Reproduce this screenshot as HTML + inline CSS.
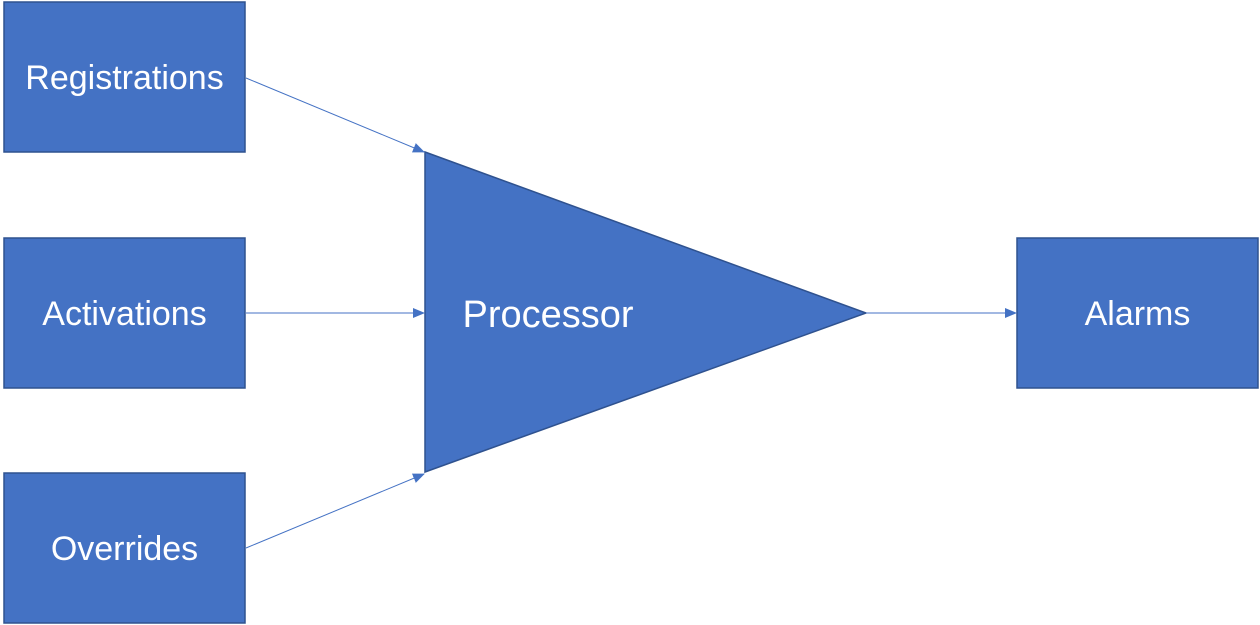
<!DOCTYPE html>
<html><head><style>
html,body{margin:0;padding:0;background:#fff;width:1260px;height:625px;overflow:hidden}
text{font-family:"Liberation Sans",sans-serif;fill:#fff}
</style></head><body>
<svg width="1260" height="625" viewBox="0 0 1260 625" xmlns="http://www.w3.org/2000/svg">
<defs><marker id="a" markerWidth="12" markerHeight="10" refX="11" refY="5" orient="auto" markerUnits="userSpaceOnUse"><path d="M0,0 L12,5 L0,10 z" fill="#4472C4"/></marker></defs>
<g fill="#4472C4" stroke="#2F528F" stroke-width="1.5">
<rect x="4" y="2" width="241" height="150"/>
<rect x="4" y="238" width="241" height="150"/>
<rect x="4" y="473" width="241" height="150"/>
<rect x="1017" y="238" width="241" height="150"/>
<polygon points="425,152 425,472 866,313"/>
</g>
<g stroke="#4472C4" stroke-width="1" marker-end="url(#a)">
<line x1="246" y1="78" x2="424" y2="152"/>
<line x1="246" y1="313" x2="424" y2="313"/>
<line x1="246" y1="548" x2="424" y2="474"/>
<line x1="866" y1="313" x2="1016" y2="313"/>
</g>
<g font-size="34" text-anchor="middle">
<text x="124.5" y="89">Registrations</text>
<text x="124.5" y="325">Activations</text>
<text x="124.5" y="560">Overrides</text>
<text x="1137.5" y="325">Alarms</text>
<text x="548" y="327" font-size="38">Processor</text>
</g>
</svg>
</body></html>
